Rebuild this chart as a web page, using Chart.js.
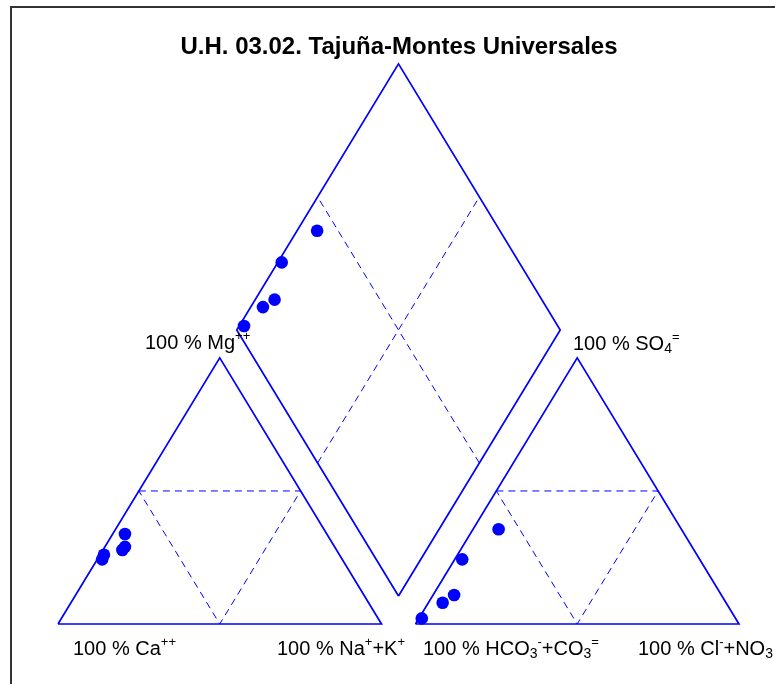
<!DOCTYPE html>
<html>
<head>
<meta charset="utf-8">
<title>Piper - U.H. 03.02</title>
<script src="https://cdn.jsdelivr.net/npm/chart.js@4/dist/chart.umd.min.js"></script>
<style>
  html, body { margin: 0; padding: 0; background: #fff; }
  canvas { display: block; }
</style>
</head>
<body>
<canvas id="piper" width="775" height="684"></canvas>
<script>
// percentages (meq %), one entry per sample
const caPct   = [64.8, 72.8, 66.2, 62.4, 74.2];
const mgPct   = [29.0, 26.0, 27.8, 33.8, 24.3];
const naKPct  = [6.2, 1.2, 6.0, 3.8, 1.5];
const hco3Pct = [56.5, 73.4, 82.6, 87.6, 97.0];
const so4Pct  = [35.6, 24.3, 10.9, 8.0, 2.1];
const clPct   = [7.9, 2.3, 6.5, 4.4, 0.9];

const titleText = 'U.H. 03.02. Tajuña-Montes Universales';

// piper frame in data units: triangle side 100, gap between triangles
const SIDE = 100;
const GAP = 10.5;
const H = Math.sqrt(3) / 2;
const BLUE = 'rgb(0, 0, 255)';

function cationXY(i) {
    const tot = caPct[i] + mgPct[i] + naKPct[i];
    const mg = mgPct[i] * 100 / tot, nak = naKPct[i] * 100 / tot;
    return { x: nak + mg / 2, y: mg * H };
}

function anionXY(i) {
    const tot = hco3Pct[i] + so4Pct[i] + clPct[i];
    const so4 = so4Pct[i] * 100 / tot, cl = clPct[i] * 100 / tot;
    return { x: SIDE + GAP + cl + so4 / 2, y: so4 * H };
}

function diamondXY(i) {
    const ct = caPct[i] + mgPct[i] + naKPct[i];
    const at = hco3Pct[i] + so4Pct[i] + clPct[i];
    const a = naKPct[i] * 100 / ct;
    const b = (so4Pct[i] + clPct[i]) * 100 / at;
    return {
        x: SIDE + GAP / 2 + 0.5 * (a + b - SIDE),
        y: GAP * H + H * (SIDE - a + b)
    };
}

// outlines
const leftTri = [{ x: 0, y: 0 }, { x: SIDE, y: 0 }, { x: SIDE / 2, y: SIDE * H }, { x: 0, y: 0 }];
const off = SIDE + GAP;
const rightTri = leftTri.map(p => ({ x: p.x + off, y: p.y }));
const dB = { x: SIDE + GAP / 2, y: GAP * H };
const dL = { x: dB.x - SIDE / 2, y: dB.y + SIDE * H };
const dR = { x: dB.x + SIDE / 2, y: dB.y + SIDE * H };
const dT = { x: dB.x, y: dB.y + 2 * SIDE * H };
const diamond = [dB, dR, dT, dL, dB];

const mid = (p, q) => ({ x: (p.x + q.x) / 2, y: (p.y + q.y) / 2 });

function innerTri(o) {
    const a = { x: o, y: 0 }, b = { x: o + SIDE, y: 0 }, c = { x: o + SIDE / 2, y: SIDE * H };
    const m1 = mid(a, c), m2 = mid(b, c), m3 = mid(a, b);
    return [m1, m2, m3, m1];
}

const dashed = [
    innerTri(0),
    innerTri(off),
    [mid(dB, dL), mid(dT, dR)],
    [mid(dB, dR), mid(dT, dL)]
];

function lineSet(data, dash) {
    return {
        type: 'scatter',
        data: data,
        showLine: true,
        borderColor: BLUE,
        borderWidth: dash ? 1 : 1.7,
        borderDash: dash ? [7, 5] : [],
        pointRadius: 0,
        pointHoverRadius: 0,
        order: 2,
    };
}

function pointSet(data) {
    return {
        type: 'scatter',
        data: data,
        showLine: false,
        backgroundColor: BLUE,
        borderColor: BLUE,
        pointRadius: 6.3,
        pointBorderWidth: 0,
        order: 0,
    };
}

const idx = caPct.map((_, i) => i);

const datasets = [
    pointSet(idx.map(cationXY)),
    pointSet(idx.map(anionXY)),
    pointSet(idx.map(diamondXY)),
    lineSet(leftTri, false),
    lineSet(rightTri, false),
    lineSet(diamond, false),
].concat(dashed.map(d => lineSet(d, true)));

// draw text with super/subscripts
function rich(ctx, x, y, parts) {
    let cx = x;
    parts.forEach(([t, kind]) => {
        let size = 20, dy = 0;
        if (kind === 'sup') { size = 13; dy = -9; }
        if (kind === 'sub') { size = 14; dy = 3; }
        ctx.font = size + 'px "Liberation Sans", Arial, sans-serif';
        ctx.fillText(t, cx, y + dy);
        cx += ctx.measureText(t).width;
    });
}

const labels = [
    [145, 349, [['100 % Mg'], ['++', 'sup']]],
    [573, 350, [['100 % SO'], ['4', 'sub'], ['=', 'sup']]],
    [73, 655, [['100 % Ca'], ['++', 'sup']]],
    [277, 655, [['100 % Na'], ['+', 'sup'], ['+K'], ['+', 'sup']]],
    [423, 655, [['100 % HCO'], ['3', 'sub'], ['-', 'sup'], ['+CO'], ['3', 'sub'], ['=', 'sup']]],
    [638, 655, [['100 % Cl'], ['-', 'sup'], ['+NO'], ['3', 'sub']]],
];

const decor = {
    id: 'decor',
    beforeDraw(chart) {
        const ctx = chart.ctx;
        ctx.save();
        ctx.fillStyle = '#fff';
        ctx.fillRect(0, 0, chart.width, chart.height);
        ctx.strokeStyle = '#333';
        ctx.lineWidth = 2;
        ctx.strokeRect(11, 7, 800, 700);
        ctx.restore();
    },
    afterDraw(chart) {
        const ctx = chart.ctx;
        ctx.save();
        ctx.fillStyle = '#000';
        ctx.textBaseline = 'alphabetic';
        ctx.textAlign = 'center';
        ctx.font = 'bold 24px "Liberation Sans", Arial, sans-serif';
        ctx.fillText(titleText, 399, 54);
        ctx.textAlign = 'left';
        labels.forEach(([x, y, parts]) => rich(ctx, x, y, parts));
        ctx.restore();
    }
};

new Chart(document.getElementById('piper').getContext('2d'), {
    type: 'scatter',
    data: { datasets: datasets },
    options: {
        responsive: false,
        animation: false,
        layout: { padding: 0, autoPadding: false },
        plugins: {
            legend: { display: false },
            tooltip: { enabled: false },
            title: { display: false },
        },
        scales: {
            x: { type: 'linear', display: false, min: -17.93, max: 221.64 },
            y: { type: 'linear', display: false, min: -19.53, max: 203.1 },
        },
    },
    plugins: [decor],
});
</script>
</body>
</html>
